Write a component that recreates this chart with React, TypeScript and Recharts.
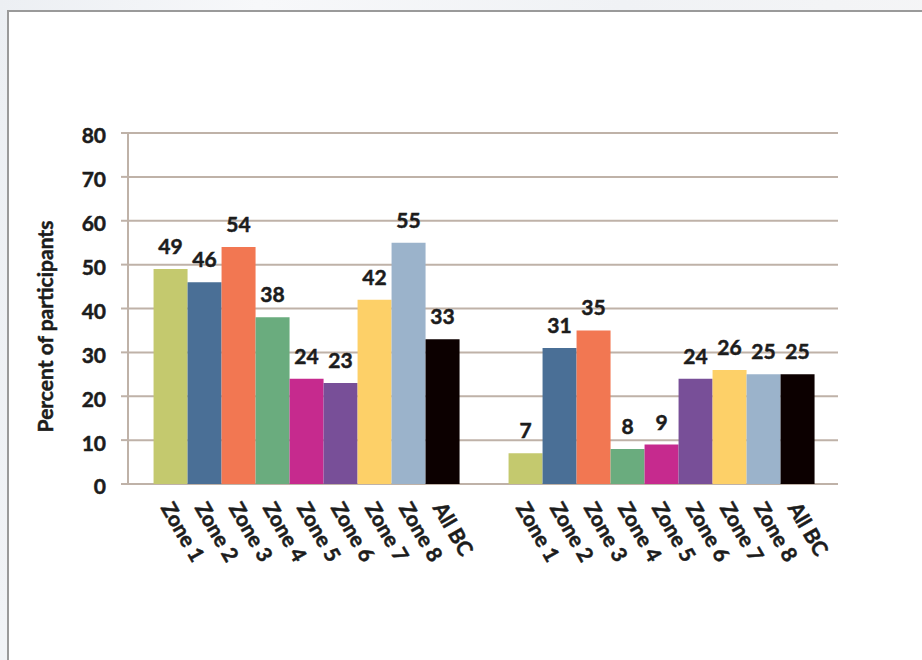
import React from 'react';
import { BarChart, Bar, XAxis, YAxis, CartesianGrid, LabelList } from 'recharts';

const categories = ['Collected wild plant food', 'Planted a garden'];
const zones = ['Zone 1', 'Zone 2', 'Zone 3', 'Zone 4', 'Zone 5', 'Zone 6', 'Zone 7', 'Zone 8', 'All BC'];
const collectedValues = [49, 46, 54, 38, 24, 23, 42, 55, 33];
const gardenValues = [7, 31, 35, 8, 9, 24, 26, 25, 25];
const zoneColors = ['#c4c96e', '#4a6f96', '#f27752', '#6aac7e', '#c62a8e', '#784f98', '#fdd068', '#9bb3cb', '#0c0000'];
const yTicks = [0, 10, 20, 30, 40, 50, 60, 70, 80];
const seriesValues = [collectedValues, gardenValues];

const data = categories.map((c, ci) => {
  const row: Record<string, any> = { category: c };
  zones.forEach((z, zi) => {
    row[z] = seriesValues[ci][zi];
  });
  return row;
});

const TEXT = '#1c1c1c';
const GRID = '#bfb2a8';
const FONT = 'Lato';
const FS = 21;
const textStyle = {
  fill: TEXT,
  fontSize: FS,
  fontWeight: 'bold' as const,
  fontFamily: FONT,
  stroke: TEXT,
  strokeWidth: 0.5,
};

const ValueLabel = (props: any) => {
  const { x, y, width, value } = props;
  return (
    <text x={x + width / 2} y={y - 15} textAnchor="middle" {...textStyle}>
      {value}
    </text>
  );
};

const makeZoneLabel = (name: string) => (props: any) => {
  const { x, y, width, height } = props;
  const ax = x + width / 2 - 4;
  const ay = y + height + 20;
  return (
    <text
      x={ax}
      y={ay}
      dy="0.35em"
      textAnchor="start"
      transform={`rotate(60, ${ax}, ${ay})`}
      {...textStyle}
    >
      {name}
    </text>
  );
};

const GroupTick = (props: any) => {
  const { x, y, payload, index } = props;
  return (
    <text x={x} y={y} dx={index === 1 ? 14 : 0} dy={135} textAnchor="middle" {...textStyle}>
      {payload.value}
    </text>
  );
};

const YTitle = (props: any) => {
  const { viewBox } = props;
  const cx = viewBox.x - 22;
  const cy = viewBox.y + viewBox.height / 2 + 18;
  return (
    <text
      x={cx}
      y={cy}
      dy="0.35em"
      textAnchor="middle"
      transform={`rotate(-90, ${cx}, ${cy})`}
      {...textStyle}
    >
      Percent of participants
    </text>
  );
};

export default function App() {
  return (
    <div
      style={{
        position: 'absolute',
        left: 0,
        top: 0,
        width: 922,
        height: 660,
        overflow: 'hidden',
        background: 'linear-gradient(100deg, #eceff3 0%, #f7f8fa 25%, #f0f2f5 60%, #f6f6f7 100%)',
        fontFamily: FONT,
      }}
    >
      <div
        style={{
          position: 'absolute',
          left: 7,
          top: 10,
          width: 940,
          height: 680,
          background: '#ffffff',
          borderLeft: '2px solid #9a9a9a',
          borderTop: '2px solid #9a9a9a',
        }}
      />
      <div style={{ position: 'absolute', left: 0, top: 0 }}>
        <BarChart
          width={922}
          height={660}
          data={data}
          margin={{ top: 133, right: 84, bottom: 176, left: 68 }}
          barCategoryGap="7.2%"
          barGap={0}
        >
          <CartesianGrid xAxisId="cat" vertical={false} stroke={GRID} strokeWidth={2} />
          <XAxis
            xAxisId="cat"
            dataKey="category"
            height={0}
            axisLine={false}
            tickLine={false}
            tickSize={0}
            tickMargin={0}
            interval={0}
            tick={<GroupTick />}
          />
          <XAxis
            xAxisId="bounds"
            type="number"
            domain={[0, 2]}
            ticks={[0, 1, 2]}
            height={0}
            axisLine={{ stroke: GRID, strokeWidth: 2 }}
            tickLine={{ stroke: GRID, strokeWidth: 2 }}
            tickSize={7}
            tick={false}
            allowDataOverflow
          />
          <YAxis
            width={60}
            domain={[0, 80]}
            ticks={yTicks}
            interval={0}
            axisLine={{ stroke: GRID, strokeWidth: 2 }}
            tickLine={{ stroke: GRID, strokeWidth: 2 }}
            tickSize={7}
            tickMargin={15}
            tick={{ ...textStyle, dy: 3 }}
            label={<YTitle />}
          />
          {zones.map((z, i) => (
            <Bar key={z} dataKey={z} xAxisId="cat" fill={zoneColors[i]} isAnimationActive={false}>
              <LabelList dataKey={z} content={<ValueLabel />} />
              <LabelList dataKey={z} content={makeZoneLabel(z)} />
            </Bar>
          ))}
        </BarChart>
      </div>
    </div>
  );
}
